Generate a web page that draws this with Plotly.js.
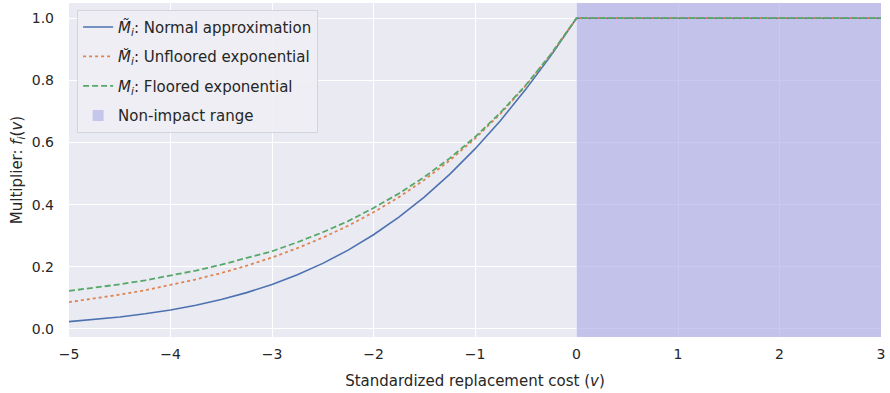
<!DOCTYPE html>
<html>
<head>
<meta charset="utf-8">
<script src="https://cdn.plot.ly/plotly-3.0.1.min.js"></script>
<style>html,body{margin:0;padding:0;background:#fff;}#chart{width:890px;height:393px;}</style>
</head>
<body>
<div id="chart"></div>
<script>
// Standardized replacement cost v
const vValues = [-5, -4.75, -4.5, -4.25, -4, -3.75, -3.5, -3.25, -3, -2.75, -2.5, -2.25, -2, -1.75, -1.5, -1.25, -1, -0.75, -0.5, -0.25, 0, 3];
// Normal approximation
const normalApprox = [0.0235, 0.0301, 0.0384, 0.0486, 0.0611, 0.0763, 0.0947, 0.1168, 0.1431, 0.1743, 0.2109, 0.2536, 0.3030, 0.3598, 0.4243, 0.4974, 0.5793, 0.6703, 0.7710, 0.8807, 1.0, 1.0];
// Unfloored exponential
const unflooredExp = [0.0863, 0.0975, 0.1103, 0.1246, 0.1409, 0.1592, 0.1800, 0.2034, 0.2299, 0.2599, 0.2938, 0.3320, 0.3753, 0.4242, 0.4795, 0.5420, 0.6126, 0.6925, 0.7827, 0.8847, 1.0, 1.0];
// Floored exponential
const flooredExp = [0.1224, 0.1323, 0.1436, 0.1564, 0.1711, 0.1878, 0.2067, 0.2281, 0.2500, 0.2790, 0.3110, 0.3470, 0.3892, 0.4358, 0.4888, 0.5489, 0.6176, 0.6958, 0.7844, 0.8852, 1.0, 1.0];
// Non-impact range (v interval)
const nonImpactRange = [0, 3];
const xTicks = [-5, -4, -3, -2, -1, 0, 1, 2, 3];
const yTicks = [0, 0.2, 0.4, 0.6, 0.8, 1.0];
const xRange = [-5, 3];
const yRange = [-0.026, 1.049];
const names = [
  "<i>M̃</i><sub><i>i</i></sub>: Normal approximation",
  "<i>M̆</i><sub><i>i</i></sub>: Unfloored exponential",
  "<i>M</i><sub><i>i</i></sub>: Floored exponential",
  "Non-impact range"
];

const traces = [
  {x: [nonImpactRange[0], nonImpactRange[1], nonImpactRange[1], nonImpactRange[0], nonImpactRange[0]],
   y: [yRange[0], yRange[0], yRange[1], yRange[1], yRange[0]],
   name: names[3], mode: "none", fill: "toself", fillcolor: "rgba(166,166,230,0.6)",
   showlegend: false},
  {x: vValues, y: normalApprox, name: names[0], mode: "lines", legendgroup: "a", legendrank: 1,
   line: {color: "#4C72B0", width: 1.6}},
  {x: vValues, y: unflooredExp, name: names[1], mode: "lines", legendgroup: "b", legendrank: 2,
   line: {color: "#DD8452", width: 1.8, dash: "dot"}},
  {x: vValues, y: flooredExp, name: names[2], mode: "lines", legendgroup: "c", legendrank: 3,
   line: {color: "#55A868", width: 1.8, dash: "6px,3px"}},
  {x: [null], y: [null], name: names[3], mode: "markers", legendgroup: "d", legendrank: 4,
   marker: {symbol: "square", size: 11, color: "rgb(198,198,236)"}}
];

const layout = {
  width: 890, height: 393,
  margin: {l: 69, r: 9, t: 3, b: 56},
  paper_bgcolor: "#ffffff",
  plot_bgcolor: "#EAEAF2",
  font: {family: "DejaVu Sans, sans-serif", size: 14, color: "#262626"},
  showlegend: true,
  legend: {
    x: 0.01, y: 0.98, xanchor: "left", yanchor: "top",
    bgcolor: "rgba(238,238,244,0.9)", bordercolor: "#D4D4DC", borderwidth: 1,
    font: {size: 15, color: "#262626"},
    traceorder: "grouped", tracegroupgap: 7, itemwidth: 30
  },
  xaxis: {
    range: xRange, tickvals: xTicks, ticktext: xTicks.map(t => t < 0 ? "−" + Math.abs(t) : String(t)),
    showgrid: true, gridcolor: "#ffffff", gridwidth: 1, zeroline: false,
    showline: false, ticks: "", ticklabelstandoff: 7,
    tickfont: {size: 14, color: "#262626"},
    title: {text: "Standardized replacement cost (<i>v</i>)", font: {size: 15, color: "#262626"}, standoff: 14}
  },
  yaxis: {
    range: yRange, tickvals: yTicks, ticktext: yTicks.map(t => t.toFixed(1)),
    showgrid: true, gridcolor: "#ffffff", gridwidth: 1, zeroline: false,
    showline: false, ticks: "", ticklabelstandoff: 14,
    tickfont: {size: 14, color: "#262626"},
    title: {text: "Multiplier: <i>f<sub>i</sub></i>(<i>v</i>)", font: {size: 15, color: "#262626"}, standoff: 5}
  }
};

Plotly.newPlot("chart", traces, layout, {displayModeBar: false, staticPlot: true});
</script>
</body>
</html>
